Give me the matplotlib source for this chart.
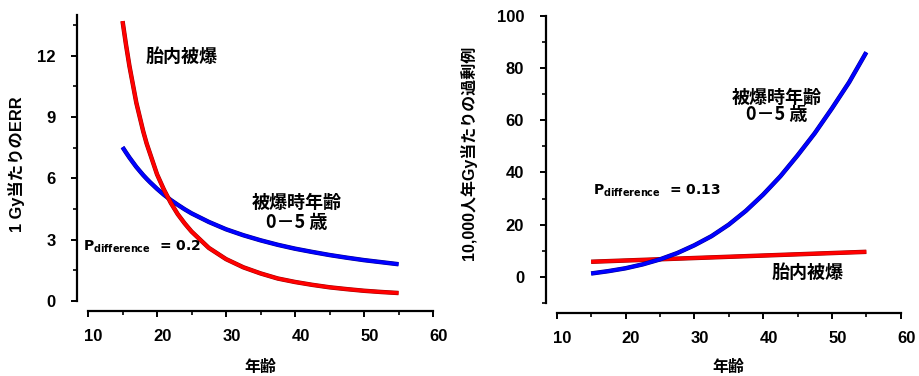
import matplotlib
matplotlib.use('Agg')
import matplotlib.pyplot as plt
import matplotlib.patheffects as pe
from matplotlib.ticker import MultipleLocator
from matplotlib.transforms import ScaledTranslation

# left panel: ERR per Gy by attained age
age_l = [15, 15.5, 16, 16.5, 17, 17.5, 18, 18.5, 19, 19.5, 20, 21, 22, 23, 24, 25, 27.5, 30, 32.5, 35,
         37.5, 40, 42.5, 45, 47.5, 50, 52.5, 55]
err_utero = [13.7, 12.55, 11.5, 10.6, 9.7, 9.0, 8.3, 7.7, 7.2, 6.7, 6.2, 5.45, 4.8, 4.25, 3.8, 3.4, 2.6,
             2.05, 1.65, 1.35, 1.1, 0.93, 0.79, 0.67, 0.58, 0.5, 0.44, 0.39]
err_child = [7.53, 7.27, 7.02, 6.79, 6.56, 6.36, 6.16, 5.98, 5.81, 5.65, 5.49, 5.2, 4.94, 4.71, 4.49, 4.29,
             3.87, 3.51, 3.22, 2.97, 2.75, 2.56, 2.4, 2.25, 2.12, 2.0, 1.9, 1.8]

# right panel: excess cases per 10,000 PY-Gy
age_r = [15, 17.5, 20, 22.5, 25, 27.5, 30, 32.5, 35, 37.5, 40, 42.5, 45, 47.5, 50, 52.5, 55]
ear_child = [1.3, 2.2, 3.3, 4.8, 6.7, 9.1, 12.1, 15.6, 20.0, 25.3, 31.5, 38.5, 46.5, 55, 64.5, 74.5, 86]
age_r_utero = [15, 55]
ear_utero = [5.8, 9.6]

xticks = [10, 20, 30, 40, 50, 60]

JP = ['Noto Sans CJK JP']
PFONT = ['DejaVu Sans', 'Noto Sans CJK JP']
RED = '#ff0000'
BLUE = '#0000ff'

plt.rcParams['font.family'] = ['Liberation Sans', 'Noto Sans CJK JP']
plt.rcParams['font.weight'] = 'bold'
plt.rcParams['axes.labelweight'] = 'bold'
plt.rcParams['font.size'] = 12


def curve(ax, x, y, color, edge):
    ax.plot(x, y, color=color, lw=2.5, solid_capstyle='butt', solid_joinstyle='round', clip_on=False,
            path_effects=[pe.Stroke(linewidth=3.2, foreground=edge), pe.Normal()])


def style(ax):
    for s in ['top', 'right']:
        ax.spines[s].set_visible(False)
    ax.spines['left'].set_position(('outward', 8))
    ax.spines['bottom'].set_position(('outward', 7))
    for s in ['left', 'bottom']:
        ax.spines[s].set_linewidth(1.6)
    ax.set_xlim(10, 60)
    ax.set_xticks(xticks)
    ax.xaxis.set_minor_locator(MultipleLocator(5))
    ax.tick_params(which='major', length=4.5, width=1.4, labelsize=12)
    ax.tick_params(which='minor', length=3, width=1.2)
    ax.tick_params(axis='y', which='major', pad=11)
    ax.tick_params(axis='x', which='major', pad=9)
    ax.set_xlabel('年齢', family=JP, fontsize=11.5, fontweight='bold', va='center')


fig = plt.figure(figsize=(9.19, 3.76), dpi=100)
ax1 = fig.add_axes([0.0958, 0.1995, 0.3754, 0.7606])
ax2 = fig.add_axes([0.6058, 0.1941, 0.3743, 0.7641])

# left
curve(ax1, age_l, err_child, BLUE, '#00008a')
curve(ax1, age_l, err_utero, RED, '#9a0000')
ax1.set_ylim(0, 14)
ax1.set_yticks([0, 3, 6, 9, 12])
ax1.yaxis.set_minor_locator(MultipleLocator(1.5))
style(ax1)
ax1.xaxis.set_label_coords(0.5, -0.231)
ax1.set_ylabel('1 Gy当たりのERR', fontsize=11.8, fontweight='bold')
ax1.yaxis.set_label_coords(-0.183, 0.48)
ax1.text(23.5, 11.95, '胎内被爆', family=JP, fontsize=13, ha='center', va='center')
ax1.text(40.3, 4.8, '被爆時年齢', family=JP, fontsize=13, ha='center', va='center')
ax1.text(40.2, 3.82, '0－5 歳', family=JP, fontsize=13, ha='center', va='center')
ax1.text(9.3, 2.64, r'$\mathbf{P}_{\mathbf{difference}}$  = 0.2', family=PFONT, fontsize=10,
         ha='left', va='center')

# right
curve(ax2, age_r_utero, ear_utero, RED, '#9a0000')
curve(ax2, age_r, ear_child, BLUE, '#00008a')
ax2.set_ylim(-10, 100)
ax2.set_yticks([0, 20, 40, 60, 80, 100])
ax2.yaxis.set_minor_locator(MultipleLocator(10))
style(ax2)
ax2.xaxis.set_label_coords(0.5, -0.223)
ax2.set_ylabel('10,000人年Gy当たりの過剰例', fontsize=11.5, fontweight='bold')
ax2.yaxis.set_label_coords(-0.232, 0.522)
ax2.text(42.0, 68.8, '被爆時年齢', family=JP, fontsize=13, ha='center', va='center')
ax2.text(41.9, 62.0, '0－5 歳', family=JP, fontsize=13, ha='center', va='center')
ax2.text(46.5, 1.8, '胎内被爆', family=JP, fontsize=13, ha='center', va='center')
ax2.text(15.3, 33.1, r'$\mathbf{P}_{\mathbf{difference}}$  = 0.13', family=PFONT, fontsize=10,
         ha='left', va='center')

# the x tick labels sit a few pixels right of their ticks in the original
fig.canvas.draw()
off = ScaledTranslation(0.055, 0, fig.dpi_scale_trans)
for ax in [ax1, ax2]:
    for lab in ax.get_xticklabels():
        lab.set_transform(lab.get_transform() + off)

fig.savefig('out.png', dpi=100)
